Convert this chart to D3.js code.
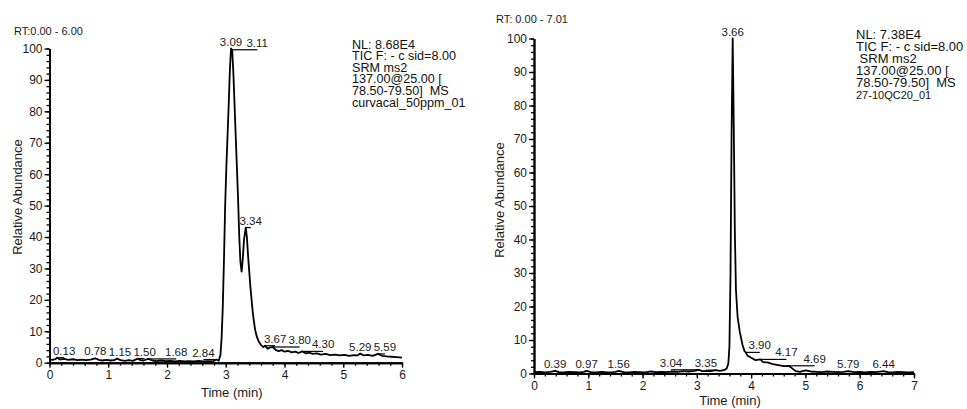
<!DOCTYPE html>
<html>
<head>
<meta charset="utf-8">
<script src="https://cdn.jsdelivr.net/npm/d3@7"></script>
<style>
  body { margin: 0; background: #fff; }
  svg { display: block; font-family: "Liberation Sans", Arial, sans-serif; }
  .axis .domain { stroke: #000; stroke-width: 1.9; }
  .axis line { stroke: #000; stroke-width: 1.3; }
  .axis text { font-size: 12px; fill: #1a1a1a; font-family: "Liberation Sans", Arial, sans-serif; }
</style>
</head>
<body>
<svg id="viz" width="967" height="409"></svg>
<script>
// left run: curvacal_50ppm_01
var leftTime = [0.00, 0.05, 0.10, 0.13, 0.18, 0.25, 0.32, 0.40, 0.48, 0.55, 0.62, 0.70, 0.78, 0.84, 0.90, 0.97,
  1.04, 1.10, 1.15, 1.21, 1.28, 1.35, 1.42, 1.50, 1.55, 1.60, 1.68, 1.75, 1.82, 1.90, 1.98, 2.06, 2.14, 2.22,
  2.30, 2.38, 2.46, 2.54, 2.62, 2.70, 2.78, 2.84, 2.88, 2.91, 2.93, 2.95, 2.97, 2.99, 3.01, 3.03, 3.05, 3.07,
  3.09, 3.11, 3.13, 3.15, 3.17, 3.19, 3.21, 3.23, 3.25, 3.27, 3.29, 3.31, 3.34, 3.36, 3.38, 3.40, 3.42, 3.44,
  3.46, 3.48, 3.50, 3.53, 3.56, 3.60, 3.64, 3.67, 3.71, 3.75, 3.80, 3.85, 3.90, 3.95, 4.00, 4.06, 4.12, 4.18,
  4.24, 4.30, 4.36, 4.42, 4.48, 4.55, 4.62, 4.70, 4.78, 4.86, 4.94, 5.02, 5.10, 5.18, 5.24, 5.29, 5.35, 5.42,
  5.50, 5.59, 5.66, 5.74, 5.82, 5.90, 5.96, 6.00];
var leftAbund = [1.0, 0.9, 1.1, 1.6, 1.0, 1.2, 0.9, 1.1, 0.8, 1.0, 0.8, 1.0, 1.4, 0.9, 0.7, 0.9,
  0.7, 0.8, 1.3, 0.8, 0.6, 0.8, 0.6, 1.3, 0.8, 0.7, 1.2, 0.7, 0.5, 0.7, 0.5, 0.6, 0.4, 0.6,
  0.4, 0.5, 0.4, 0.6, 0.4, 0.5, 0.4, 1.0, 0.6, 2.5, 8, 18, 33, 50, 62, 72, 82, 93,
  100, 99.6, 92, 82, 72, 62, 52, 40, 32, 29, 33, 39, 43, 40, 34, 29, 24, 20,
  16, 13, 10.5, 8.2, 6.8, 5.6, 5.0, 5.4, 4.5, 4.8, 5.0, 4.1, 3.7, 4.0, 3.5, 3.8, 3.3, 3.5,
  3.1, 3.6, 3.0, 3.2, 2.8, 3.0, 2.6, 2.8, 2.4, 2.6, 2.3, 2.5, 2.2, 2.4, 2.3, 2.9, 2.3, 2.5,
  2.2, 2.8, 2.2, 2.0, 1.9, 1.8, 1.7, 1.6];
var leftPeaks = ["0.13", "0.78", "1.15", "1.50", "1.68", "2.84", "3.09", "3.11", "3.34", "3.67", "3.80", "4.30", "5.29", "5.59"];
var leftInfo = ["NL: 8.68E4", "TIC F: - c sid=8.00", "SRM ms2", "137.00@25.00 [", "78.50-79.50]  MS", "curvacal_50ppm_01"];
var leftXTicks = [0, 1, 2, 3, 4, 5, 6];

// right run: 27-10QC20_01
var rightTime = [0.00, 0.10, 0.20, 0.30, 0.39, 0.46, 0.55, 0.65, 0.75, 0.85, 0.92, 0.97, 1.05, 1.15, 1.25, 1.35,
  1.45, 1.50, 1.56, 1.65, 1.75, 1.85, 1.95, 2.05, 2.15, 2.25, 2.35, 2.45, 2.55, 2.65, 2.75, 2.85, 2.95, 3.04,
  3.10, 3.18, 3.26, 3.35, 3.42, 3.50, 3.55, 3.58, 3.60, 3.62, 3.64, 3.66, 3.68, 3.70, 3.72, 3.75, 3.79, 3.84,
  3.88, 3.90, 3.93, 4.00, 4.08, 4.17, 4.22, 4.30, 4.40, 4.50, 4.60, 4.69, 4.75, 4.82, 4.90, 5.00, 5.10, 5.20,
  5.30, 5.40, 5.50, 5.60, 5.70, 5.79, 5.90, 6.00, 6.10, 6.20, 6.30, 6.44, 6.52, 6.60, 6.70, 6.80, 6.90, 7.00];
var rightAbund = [0.4, 0.5, 0.3, 0.5, 0.8, 0.4, 0.3, 0.5, 0.4, 0.3, 0.5, 0.8, 0.4, 0.3, 0.5, 0.3,
  0.4, 0.5, 0.8, 0.4, 0.3, 0.5, 0.4, 0.3, 0.6, 0.4, 0.5, 0.4, 0.6, 0.5, 0.7, 0.6, 0.8, 1.1,
  0.7, 0.8, 0.7, 1.0, 0.8, 1.0, 1.5, 3.0, 8, 30, 72, 100, 74, 42, 25, 17, 12.5, 8.6,
  6.6, 6.3, 5.4, 4.7, 4.0, 4.2, 3.4, 3.3, 2.8, 2.5, 2.2, 2.3, 1.6, 0.7, 0.5, 0.9, 0.6, 0.5,
  0.4, 0.6, 0.5, 0.4, 0.5, 0.7, 0.4, 0.5, 0.3, 0.5, 0.4, 0.7, 0.4, 0.3, 0.5, 0.4, 0.3, 0.4];
var rightPeaks = ["0.39", "0.97", "1.56", "3.04", "3.35", "3.66", "3.90", "4.17", "4.69", "5.79", "6.44"];
var rightInfo = ["NL: 7.38E4", "TIC F: - c sid=8.00", " SRM ms2", "137.00@25.00 [", "78.50-79.50]  MS", "27-10QC20_01"];
var rightXTicks = [0, 1, 2, 3, 4, 5, 6, 7];

var yTicks = [0, 10, 20, 30, 40, 50, 60, 70, 80, 90, 100];

var svg = d3.select("#viz");

// layout of each panel (label shifts in px, to keep labels from overlapping)
var panels = [
  { time: leftTime, abund: leftAbund, peaks: leftPeaks, info: leftInfo, xTicks: leftXTicks,
    rt: "RT:0.00 - 6.00", xMax: 6, x0: 49.5, x1: 402, yTop: 48.5, yBot: 362.7,
    shift: [7, 0, 3, 7, 28, -13, 0, 25, 5, 10, 27, 21, 0, 7],
    infoX: 352, infoY: 48.5, infoStep: 11.6, infoSize: 12.6, lastSize: 12.6,
    rtX: 14, rtY: 35, yLabelX: 17, yLabelY: 197, xLabelY: 397 },
  { time: rightTime, abund: rightAbund, peaks: rightPeaks, info: rightInfo, xTicks: rightXTicks,
    rt: "RT: 0.00 - 7.01", xMax: 7, x0: 534, x1: 914, yTop: 38.5, yBot: 373.5,
    shift: [0, 0, 0, -28, -10, 0, 14, 26, 26, 0, 0],
    infoX: 856, infoY: 38.5, infoStep: 12, infoSize: 13, lastSize: 11,
    rtX: 496, rtY: 23, yLabelX: 499, yLabelY: 200, xLabelY: 405 }
];

panels.forEach(drawPanel);

function drawPanel(p) {
  var x = d3.scaleLinear().domain([0, p.xMax]).range([p.x0, p.x1]);
  var y = d3.scaleLinear().domain([0, 100]).range([p.yBot, p.yTop]);
  var g = svg.append("g");

  // minor ticks first
  g.append("g")
    .attr("class", "axis")
    .attr("transform", "translate(0," + p.yBot + ")")
    .call(d3.axisBottom(x).tickValues(d3.range(0, p.xMax + 0.001, 0.2)).tickSize(3).tickSizeOuter(0).tickFormat(""));
  g.append("g")
    .attr("class", "axis")
    .attr("transform", "translate(" + p.x0 + ",0)")
    .call(d3.axisLeft(y).tickValues(d3.range(0, 101, 2)).tickSize(3).tickSizeOuter(0).tickFormat(""));

  // major axes
  g.append("g")
    .attr("class", "axis")
    .attr("transform", "translate(0," + p.yBot + ")")
    .call(d3.axisBottom(x).tickValues(p.xTicks).tickSize(5).tickSizeOuter(0).tickPadding(3).tickFormat(d3.format("d")));
  g.append("g")
    .attr("class", "axis")
    .attr("transform", "translate(" + p.x0 + ",0)")
    .call(d3.axisLeft(y).tickValues(yTicks).tickSize(5).tickSizeOuter(0).tickPadding(2));

  // trace
  var line = d3.line()
    .x(function(d, i) { return x(p.time[i]); })
    .y(function(d) { return y(d); });
  g.append("path")
    .datum(p.abund)
    .attr("d", line)
    .attr("fill", "none")
    .attr("stroke", "#000")
    .attr("stroke-width", 1.8)
    .attr("stroke-linejoin", "round");

  // peak labels with leader lines
  p.peaks.forEach(function(lab, i) {
    var rt = +lab;
    var k = d3.minIndex(p.time, function(t) { return Math.abs(t - rt); });
    var px = x(rt), py = y(p.abund[k]);
    var cx = px + p.shift[i];
    if (Math.abs(p.shift[i]) > 4) {
      g.append("line")
        .attr("x1", px).attr("x2", cx)
        .attr("y1", py).attr("y2", py)
        .attr("stroke", "#000")
        .attr("stroke-width", 1.2);
    }
    g.append("text")
      .attr("x", cx)
      .attr("y", py - 3)
      .attr("text-anchor", "middle")
      .style("font-size", "11.5px")
      .style("fill", "#1a1a1a")
      .text(lab);
  });

  // header info block
  g.selectAll(".info")
    .data(p.info)
    .enter()
    .append("text")
    .attr("x", p.infoX)
    .attr("y", function(d, i) { return p.infoY + i * p.infoStep; })
    .style("font-size", function(d, i) { return (i === p.info.length - 1 ? p.lastSize : p.infoSize) + "px"; })
    .style("white-space", "pre")
    .style("fill", "#111")
    .text(function(d) { return d; });

  // range label
  g.append("text")
    .attr("x", p.rtX).attr("y", p.rtY)
    .style("font-size", "11px")
    .style("fill", "#1a1a1a")
    .text(p.rt);

  // axis titles
  g.append("text")
    .attr("transform", "translate(" + p.yLabelX + "," + p.yLabelY + ") rotate(-90)")
    .attr("text-anchor", "middle")
    .attr("dy", "0.35em")
    .style("font-size", "13px")
    .style("fill", "#1a1a1a")
    .text("Relative Abundance");
  g.append("text")
    .attr("x", (p.x0 + p.x1) / 2 + 6)
    .attr("y", p.xLabelY)
    .attr("text-anchor", "middle")
    .style("font-size", "13px")
    .style("fill", "#1a1a1a")
    .text("Time (min)");
}
</script>
</body>
</html>
